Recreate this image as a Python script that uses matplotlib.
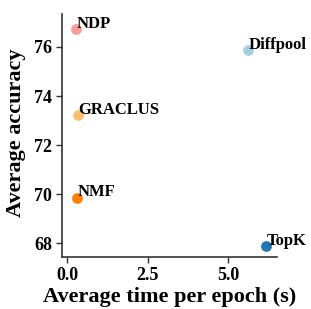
import matplotlib
matplotlib.use('Agg')
import matplotlib.pyplot as PyPlot

# Values
methods = ['TopK', 'Diffpool', 'NMF', 'GRACLUS', 'NDP']
epochTime = [6.18, 5.62, 0.31, 0.34, 0.28]
accuracy = [67.88, 75.88, 69.85, 73.22, 76.73]
colors = ['#1f78b4', '#a6cee3', '#ff7f00', '#fdbf6f', '#fb9a99']

PyPlot.rcParams['font.family'] = ['Liberation Serif', 'DejaVu Serif']
PyPlot.rcParams['font.weight'] = 'bold'

figure = PyPlot.figure(figsize = (3.11, 3.09), dpi = 100)
axes = figure.add_axes([0.199, 0.168, 0.692, 0.787])

# Scatter points with labels
for name, X, Y, color in zip(methods, epochTime, accuracy, colors):
    axes.scatter(X, Y, s = 60, color = color, zorder = 3, linewidths = 0)
    axes.annotate(name, (X, Y), xytext = (0.5, 1), textcoords = 'offset points',
                  fontsize = 12, fontweight = 'bold', ha = 'left', va = 'baseline')

axes.set_xlim(-0.16, 6.52)
axes.set_ylim(67.43, 77.35)
axes.set_xticks([0.0, 2.5, 5.0])
axes.set_xticklabels(['0.0', '2.5', '5.0'])
axes.set_yticks([68, 70, 72, 74, 76])

for side in ['top', 'right']:
    axes.spines[side].set_visible(False)
for side in ['left', 'bottom']:
    axes.spines[side].set_linewidth(1.2)
    axes.spines[side].set_color('#333333')

axes.tick_params(axis = 'both', direction = 'out', length = 4, width = 1,
                 color = '#333333', labelsize = 13, pad = 3)
for label in axes.get_xticklabels() + axes.get_yticklabels():
    label.set_fontweight('bold')

axes.set_xlabel('Average time per epoch (s)', fontsize = 16, fontweight = 'bold',
                labelpad = 2)
axes.set_ylabel('Average accuracy', fontsize = 16, fontweight = 'bold',
                labelpad = 3)
axes.yaxis.set_label_coords(-0.165, 0.51)

figure.savefig('out.png', format = 'png', dpi = 100)
